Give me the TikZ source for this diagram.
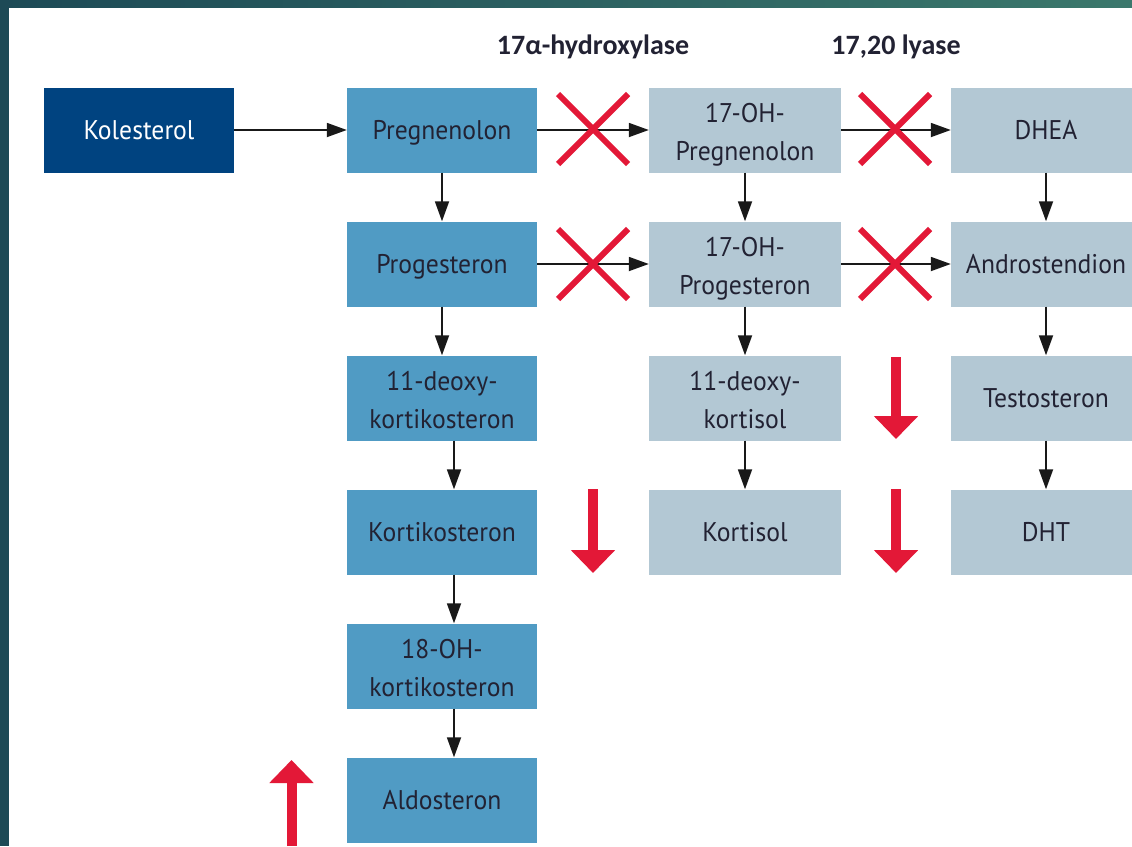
\documentclass[tikz,border=0pt]{standalone}
\usepackage{fontspec}
\usetikzlibrary{arrows.meta}
\newfontfamily\boxfont[FakeStretch=0.95]{PT Sans}
\newfontfamily\hdfont{Carlito}
\definecolor{kolblue}{RGB}{0,67,128}
\definecolor{midblue}{RGB}{80,155,196}
\definecolor{lightblue}{RGB}{179,200,212}
\definecolor{txtdark}{RGB}{34,34,51}
\definecolor{markred}{RGB}{227,24,55}
\definecolor{frameL}{RGB}{29,74,86}
\definecolor{frameR}{RGB}{59,120,108}
\tikzset{
  stepbox/.style={rectangle, inner sep=0pt, minimum width=190pt, minimum height=85pt,
    align=center, text=txtdark, text height=19pt, text depth=0pt,
    font=\boxfont\fontsize{27}{38}\selectfont},
  twoline/.style={text height=60pt, text depth=0pt},
  kolbox/.style={stepbox, fill=kolblue, text=white},
  midbox/.style={stepbox, fill=midblue},
  lightbox/.style={stepbox, fill=lightblue},
  flow/.style={line width=1.8pt, black!90, -{Triangle[width=14pt,length=20pt]}},
  redarrow/.style={line width=10pt, markred, -{Triangle[width=43pt,length=23pt]}},
  redcross/.style={line width=6pt, markred},
  hdlabel/.style={font=\hdfont\bfseries\fontsize{28}{32}\selectfont, text=txtdark, inner sep=0pt}
}
\begin{document}
\begin{tikzpicture}[x=1pt,y=-1pt]
\useasboundingbox (0,0) rectangle (1132,846);
\clip (0,0) rectangle (1132,846);
\fill[white] (0,0) rectangle (1132,846);
\shade[left color=frameL, right color=frameR] (0,0) rectangle (1132,7);
\fill[frameL] (0,0) rectangle (9,846);

% headers
\node[hdlabel] (h1) at (593,47) {17α-hydroxylase};
\node[hdlabel] (h2) at (896,47) {17,20 lyase};

% boxes
\node[kolbox] (k) at (139,130) {Kolesterol};
\node[midbox] (p1) at (442,130) {Pregnenolon};
\node[midbox] (p2) at (442,264) {Progesteron};
\node[midbox, twoline] (p3) at (442,398) {11-deoxy-\\kortikosteron};
\node[midbox] (p4) at (442,532) {Kortikosteron};
\node[midbox, twoline] (p5) at (442,666) {18-OH-\\kortikosteron};
\node[midbox] (p6) at (442,800) {Aldosteron};
\node[lightbox, twoline, minimum width=192pt] (q1) at (745,130) {17-OH-\\Pregnenolon};
\node[lightbox, twoline, minimum width=192pt] (q2) at (745,264) {17-OH-\\Progesteron};
\node[lightbox, twoline, minimum width=192pt] (q3) at (745,398) {11-deoxy-\\kortisol};
\node[lightbox, minimum width=192pt] (q4) at (745,532) {Kortisol};
\node[lightbox] (r1) at (1046,130) {DHEA};
\node[lightbox] (r2) at (1046,264) {Androstendion};
\node[lightbox] (r3) at (1046,398) {Testosteron};
\node[lightbox] (r4) at (1046,532) {DHT};

% horizontal flow
\draw[flow] (k) -- (p1);
\draw[flow] (p1) -- (q1);
\draw[flow] (q1) -- (r1);
\draw[flow] (p2) -- (q2);
\draw[flow] (q2) -- (r2);

% vertical flow
\draw[flow] (p1) -- (p2);
\draw[flow] (p2) -- (p3);
\draw[flow] ([xshift=12pt]p3.south) -- ([xshift=12pt]p4.north);
\draw[flow] ([xshift=12pt]p4.south) -- ([xshift=12pt]p5.north);
\draw[flow] ([xshift=12pt]p5.south) -- ([xshift=12pt]p6.north);
\draw[flow] (q1) -- (q2);
\draw[flow] (q2) -- (q3);
\draw[flow] (q3) -- (q4);
\draw[flow] (r1) -- (r2);
\draw[flow] (r2) -- (r3);
\draw[flow] (r3) -- (r4);

% red crosses
\foreach \cx/\cy in {593/129, 895/129, 593/264, 895/264}{
  \draw[redcross] (\cx-35,\cy-35) -- (\cx+35,\cy+35);
  \draw[redcross] (\cx-35,\cy+35) -- (\cx+35,\cy-35);
}

% red arrows
\coordinate (d1s) at (593,489); \coordinate (d1e) at (593,573);
\coordinate (d2s) at (896,357); \coordinate (d2e) at (896,439);
\coordinate (d3s) at (896,489); \coordinate (d3e) at (896,573);
\coordinate (u1s) at (291.5,846); \coordinate (u1e) at (291.5,760);
\draw[redarrow] (d1s) -- (d1e);
\draw[redarrow] (d2s) -- (d2e);
\draw[redarrow] (d3s) -- (d3e);
\draw[redarrow] (u1s) -- (u1e);
\end{tikzpicture}
\end{document}
